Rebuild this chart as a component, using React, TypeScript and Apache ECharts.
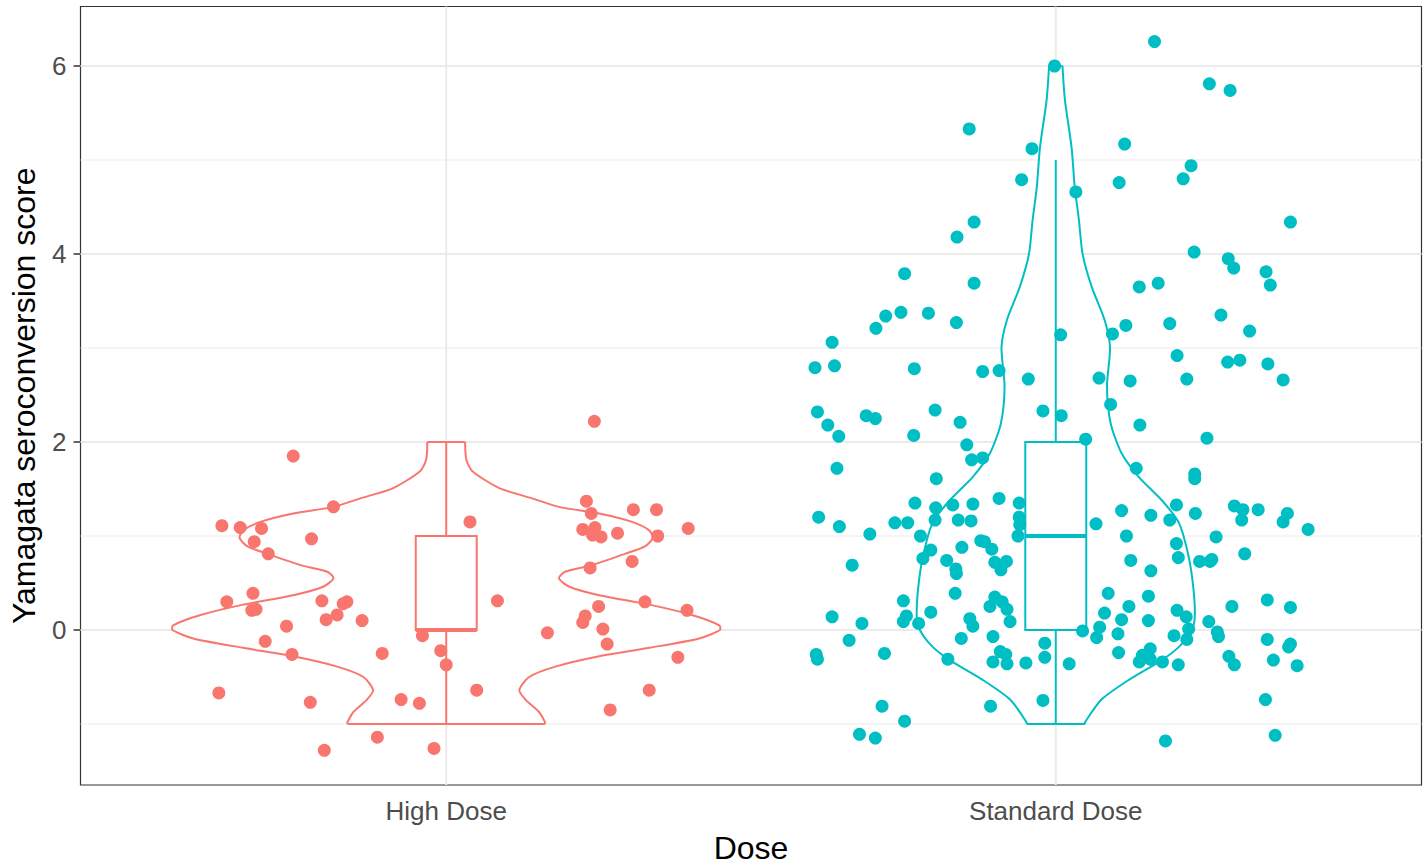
import React, { useEffect, useRef } from "react";
import * as echarts from "echarts";

const FONT = "'Liberation Sans', Arial, Helvetica, sans-serif";

const categories = ["High Dose", "Standard Dose"];
const colors = ["#F8766D", "#00BFC4"];

const yMajorTicks = [0, 2, 4, 6];
const yMinorTicks = [-1, 1, 3, 5];
const xTicks = [1, 2];

// boxplot stats: [min, q1, median, q3, max]
const highBox = [-1, 0, 0, 1, 2];
const stdBox = [-1, 0, 1, 2, 5];

// violin outline: y values and half-widths (x units)
const highViolinY = [2.0, 1.81, 1.69, 1.51, 1.4, 1.31, 1.24, 1.15, 1.06, 0.98, 0.89, 0.81, 0.69, 0.62, 0.55, 0.46, 0.37, 0.27, 0.16, 0.05, 0.0, -0.09, -0.19, -0.28, -0.39, -0.5, -0.64, -0.74, -0.87, -0.98, -1.0];
const highViolinHalfWidth = [0.031, 0.033, 0.043, 0.087, 0.141, 0.185, 0.251, 0.305, 0.333, 0.339, 0.326, 0.293, 0.239, 0.195, 0.185, 0.202, 0.251, 0.333, 0.403, 0.448, 0.449, 0.415, 0.333, 0.251, 0.179, 0.136, 0.12, 0.13, 0.152, 0.162, 0.162];
const stdViolinY = [6.0, 5.64, 5.13, 4.72, 4.36, 4.0, 3.65, 3.3, 3.01, 2.59, 2.2, 1.88, 1.63, 1.38, 1.14, 0.78, 0.43, 0.14, 0.0, -0.18, -0.32, -0.53, -0.74, -0.98, -1.0];
const stdViolinHalfWidth = [0.011, 0.015, 0.026, 0.031, 0.038, 0.044, 0.059, 0.08, 0.089, 0.084, 0.09, 0.108, 0.136, 0.174, 0.202, 0.218, 0.226, 0.228, 0.223, 0.202, 0.174, 0.12, 0.075, 0.048, 0.048];

// jittered points: [x offset from category, score]
const highDosePoints = [
  [-0.251, 1.85], [-0.185, 1.31], [-0.368, 1.11], [-0.338, 1.09], [-0.303, 1.08], [-0.221, 0.97], [-0.315, 0.94], [-0.292, 0.81],
  [-0.317, 0.39], [-0.36, 0.3], [-0.204, 0.31], [-0.163, 0.3], [-0.169, 0.28], [-0.319, 0.21], [-0.312, 0.22], [-0.179, 0.16],
  [-0.197, 0.11], [-0.138, 0.1], [-0.262, 0.04], [-0.297, -0.12], [-0.253, -0.26], [-0.105, -0.25], [-0.039, -0.06], [-0.009, -0.22],
  [0.0, -0.37], [-0.373, -0.67], [-0.223, -0.77], [-0.074, -0.74], [-0.044, -0.78], [-0.113, -1.14], [-0.2, -1.28], [-0.02, -1.26],
  [0.243, 2.22], [0.039, 1.15], [0.23, 1.37], [0.238, 1.24], [0.307, 1.28], [0.345, 1.28], [0.224, 1.07], [0.244, 1.09],
  [0.24, 1.01], [0.254, 0.99], [0.281, 1.03], [0.347, 1.0], [0.397, 1.08], [0.305, 0.73], [0.236, 0.66], [0.084, 0.31],
  [0.326, 0.3], [0.395, 0.21], [0.25, 0.25], [0.228, 0.15], [0.224, 0.08], [0.257, 0.01], [0.166, -0.03], [0.264, -0.15],
  [0.38, -0.29], [0.05, -0.64], [0.333, -0.64], [0.269, -0.85],
];

const standardDosePoints = [
  [-0.002, 6.0], [-0.142, 5.33], [-0.039, 5.12], [-0.056, 4.79], [-0.134, 4.34], [-0.162, 4.18], [-0.248, 3.79], [-0.134, 3.69],
  [-0.295, 3.21], [-0.279, 3.34], [-0.254, 3.38], [-0.209, 3.37], [-0.163, 3.27], [-0.367, 3.06], [-0.395, 2.79], [-0.363, 2.81],
  [-0.232, 2.78], [-0.12, 2.75], [-0.093, 2.76], [-0.045, 2.67], [0.008, 3.14],
  [0.162, 6.26], [0.252, 5.81], [0.286, 5.74], [0.113, 5.17], [0.222, 4.94], [0.209, 4.8], [0.104, 4.76], [0.033, 4.66],
  [0.385, 4.34], [0.227, 4.02], [0.283, 3.95], [0.292, 3.85], [0.345, 3.81], [0.352, 3.67], [0.168, 3.69], [0.137, 3.65],
  [0.271, 3.35], [0.187, 3.26], [0.115, 3.24], [0.093, 3.15], [0.318, 3.18], [0.199, 2.92], [0.282, 2.85], [0.302, 2.87],
  [0.348, 2.83], [0.071, 2.68], [0.122, 2.65], [0.215, 2.67], [0.373, 2.66],
  [-0.391, 2.32], [-0.374, 2.18], [-0.356, 2.06], [-0.311, 2.28], [-0.296, 2.25], [-0.198, 2.34], [-0.157, 2.21], [-0.233, 2.07],
  [-0.021, 2.33], [-0.146, 1.97], [-0.359, 1.72], [-0.138, 1.81], [-0.12, 1.83], [-0.196, 1.61], [-0.231, 1.35], [-0.197, 1.3],
  [-0.169, 1.33], [-0.136, 1.34], [-0.093, 1.4], [-0.06, 1.35], [-0.389, 1.2], [-0.355, 1.1], [-0.305, 1.02], [-0.264, 1.14],
  [-0.243, 1.14], [-0.198, 1.17], [-0.16, 1.17], [-0.139, 1.16], [-0.06, 1.2], [-0.059, 1.12], [-0.222, 1.0], [-0.062, 1.0],
  [-0.123, 0.95], [-0.117, 0.94], [-0.205, 0.85], [-0.154, 0.88], [-0.105, 0.86], [-0.218, 0.76], [-0.179, 0.74], [-0.1, 0.72],
  [-0.081, 0.73], [-0.164, 0.65], [-0.163, 0.6], [-0.09, 0.64], [-0.334, 0.69], [-0.165, 0.39], [-0.25, 0.31], [-0.1, 0.35],
  [-0.108, 0.25], [-0.088, 0.3], [-0.08, 0.22], [-0.205, 0.19], [-0.367, 0.14], [-0.318, 0.07], [-0.245, 0.15], [-0.25, 0.09],
  [-0.225, 0.07], [-0.141, 0.12], [-0.136, 0.04], [-0.075, 0.09], [-0.339, -0.11], [-0.155, -0.09], [-0.103, -0.07], [-0.018, -0.14],
  [-0.393, -0.26], [-0.391, -0.31], [-0.281, -0.25], [-0.177, -0.31], [-0.091, -0.23], [-0.082, -0.26], [-0.103, -0.34], [-0.08, -0.36],
  [-0.049, -0.35], [-0.018, -0.29], [-0.285, -0.81], [-0.107, -0.81], [-0.021, -0.75], [-0.248, -0.97], [-0.322, -1.11], [-0.296, -1.15],
  [0.009, 2.28], [0.09, 2.4], [0.138, 2.18], [0.049, 2.03], [0.248, 2.04], [0.132, 1.72], [0.228, 1.66], [0.228, 1.61],
  [0.198, 1.33], [0.108, 1.27], [0.156, 1.22], [0.187, 1.17], [0.229, 1.24], [0.293, 1.32], [0.307, 1.28], [0.305, 1.17],
  [0.332, 1.28], [0.38, 1.24], [0.373, 1.15], [0.414, 1.07], [0.066, 1.13], [0.116, 1.0], [0.263, 0.99], [0.198, 0.92],
  [0.201, 0.77], [0.123, 0.74], [0.236, 0.73], [0.253, 0.73], [0.256, 0.75], [0.31, 0.81], [0.156, 0.63], [0.086, 0.39],
  [0.152, 0.36], [0.289, 0.25], [0.347, 0.32], [0.385, 0.24], [0.12, 0.25], [0.08, 0.18], [0.108, 0.11], [0.152, 0.1],
  [0.199, 0.21], [0.214, 0.14], [0.251, 0.09], [0.072, 0.03], [0.067, -0.08], [0.044, -0.01], [0.102, -0.04], [0.218, 0.01],
  [0.194, -0.06], [0.215, -0.1], [0.265, -0.02], [0.267, -0.07], [0.347, -0.1], [0.385, -0.15], [0.382, -0.18], [0.103, -0.24],
  [0.155, -0.2], [0.142, -0.27], [0.137, -0.34], [0.155, -0.31], [0.175, -0.34], [0.201, -0.37], [0.022, -0.36], [0.284, -0.28],
  [0.293, -0.37], [0.357, -0.32], [0.396, -0.38], [0.344, -0.74], [0.18, -1.18], [0.36, -1.12],
];

const X_MIN = 0.4;
const X_MAX = 2.6;
const Y_MIN = -1.649;
const Y_MAX = 6.633;
const BOX_WIDTH = 0.1;

const violinProfiles = [
  { y: highViolinY, hw: highViolinHalfWidth },
  { y: stdViolinY, hw: stdViolinHalfWidth },
];

export default function App() {
  const ref = useRef<HTMLDivElement>(null);

  useEffect(() => {
    if (!ref.current) return;
    const chart = echarts.init(ref.current, null, { renderer: "svg" });

    const hLine = (stroke: string, width: number) => (params: any, api: any) => {
      const cs = params.coordSys;
      const y = api.coord([X_MIN, api.value(1)])[1];
      return {
        type: "line",
        shape: { x1: cs.x, y1: y, x2: cs.x + cs.width, y2: y },
        style: { stroke, lineWidth: width },
        silent: true,
      };
    };
    const vLine = (stroke: string, width: number) => (params: any, api: any) => {
      const cs = params.coordSys;
      const x = api.coord([api.value(0), Y_MIN])[0];
      return {
        type: "line",
        shape: { x1: x, y1: cs.y, x2: x, y2: cs.y + cs.height },
        style: { stroke, lineWidth: width },
        silent: true,
      };
    };

    const option: any = {
      animation: false,
      backgroundColor: "#ffffff",
      grid: {
        left: 80.5,
        right: 4.5,
        top: 6.5,
        bottom: 80,
        show: true,
        borderColor: "#333333",
        borderWidth: 1.2,
        backgroundColor: "#ffffff",
        containLabel: false,
        outerBoundsMode: "none",
      },
      xAxis: {
        type: "value",
        min: X_MIN,
        max: X_MAX,
        splitLine: { show: false },
        axisLine: { show: false },
        axisTick: { show: true, customValues: xTicks, length: 7, lineStyle: { color: "#333333", width: 1.5 } },
        axisLabel: {
          customValues: xTicks,
          formatter: (v: number) => categories[Math.round(v) - 1] ?? "",
          fontSize: 26,
          color: "#4D4D4D",
          fontFamily: FONT,
          margin: 13,
        },
        name: "Dose",
        nameLocation: "middle",
        nameGap: 47,
        nameTextStyle: { fontSize: 32, color: "#000000", fontFamily: FONT },
      },
      yAxis: {
        type: "value",
        min: Y_MIN,
        max: Y_MAX,
        splitLine: { show: false },
        axisLine: { show: false },
        axisTick: { show: true, customValues: yMajorTicks, length: 7, lineStyle: { color: "#333333", width: 1.5 } },
        axisLabel: {
          customValues: yMajorTicks,
          formatter: (v: number) => String(v),
          fontSize: 26,
          color: "#4D4D4D",
          fontFamily: FONT,
          margin: 14,
        },
        name: "Yamagata seroconversion score",
        nameLocation: "middle",
        nameRotate: 90,
        nameGap: 41,
        nameTextStyle: { fontSize: 32, color: "#000000", fontFamily: FONT },
      },
      series: [
        {
          type: "custom",
          silent: true,
          z: 1,
          data: yMinorTicks.map((v) => [X_MIN, v]),
          renderItem: hLine("#EBEBEB", 1),
        },
        {
          type: "custom",
          silent: true,
          z: 1,
          data: yMajorTicks.map((v) => [X_MIN, v]),
          renderItem: hLine("#EBEBEB", 2),
        },
        {
          type: "custom",
          silent: true,
          z: 1,
          data: xTicks.map((v) => [v, Y_MIN]),
          renderItem: vLine("#EBEBEB", 2),
        },
        {
          type: "custom",
          silent: true,
          z: 2,
          data: [[1, 0], [2, 0]],
          renderItem: (params: any, api: any) => {
            const cat = api.value(0);
            const prof = violinProfiles[params.dataIndex];
            const color = colors[params.dataIndex];
            const right = prof.y.map((y, i) => api.coord([cat + prof.hw[i], y]));
            const left = prof.y.map((y, i) => api.coord([cat - prof.hw[i], y]));
            const poly = right.concat(left.slice().reverse());
            const n = right.length - 1;
            return {
              type: "group",
              children: [
                { type: "polygon", shape: { points: poly, smooth: 0.25 }, style: { fill: "#ffffff", stroke: null } },
                { type: "polyline", shape: { points: right, smooth: 0.25 }, style: { stroke: color, lineWidth: 2, fill: null } },
                { type: "polyline", shape: { points: left, smooth: 0.25 }, style: { stroke: color, lineWidth: 2, fill: null } },
                { type: "line", shape: { x1: left[0][0], y1: left[0][1], x2: right[0][0], y2: right[0][1] }, style: { stroke: color, lineWidth: 2 } },
                { type: "line", shape: { x1: left[n][0], y1: left[n][1], x2: right[n][0], y2: right[n][1] }, style: { stroke: color, lineWidth: 2 } },
              ],
            };
          },
        },
        {
          type: "custom",
          silent: true,
          z: 3,
          data: [[1, ...highBox], [2, ...stdBox]],
          renderItem: (params: any, api: any) => {
            const cat = api.value(0);
            const mn = api.value(1), q1 = api.value(2), med = api.value(3), q3 = api.value(4), mx = api.value(5);
            const color = colors[params.dataIndex];
            const pMin = api.coord([cat, mn]);
            const pQ1 = api.coord([cat, q1]);
            const pQ3 = api.coord([cat, q3]);
            const pMax = api.coord([cat, mx]);
            const lMed = api.coord([cat - BOX_WIDTH / 2, med]);
            const rMed = api.coord([cat + BOX_WIDTH / 2, med]);
            const tl = api.coord([cat - BOX_WIDTH / 2, q3]);
            const br = api.coord([cat + BOX_WIDTH / 2, q1]);
            return {
              type: "group",
              children: [
                { type: "line", shape: { x1: pMin[0], y1: pMin[1], x2: pQ1[0], y2: pQ1[1] }, style: { stroke: color, lineWidth: 2 } },
                { type: "line", shape: { x1: pQ3[0], y1: pQ3[1], x2: pMax[0], y2: pMax[1] }, style: { stroke: color, lineWidth: 2 } },
                { type: "rect", shape: { x: tl[0], y: tl[1], width: br[0] - tl[0], height: br[1] - tl[1] }, style: { fill: "#ffffff", stroke: color, lineWidth: 2 } },
                { type: "line", shape: { x1: lMed[0], y1: lMed[1], x2: rMed[0], y2: rMed[1] }, style: { stroke: color, lineWidth: 4 } },
              ],
            };
          },
        },
        {
          type: "scatter",
          silent: true,
          z: 4,
          symbol: "circle",
          symbolSize: 13,
          itemStyle: { color: colors[0], opacity: 1 },
          data: highDosePoints.map(([dx, y]) => [1 + dx, y]),
        },
        {
          type: "scatter",
          silent: true,
          z: 4,
          symbol: "circle",
          symbolSize: 13,
          itemStyle: { color: colors[1], opacity: 1 },
          data: standardDosePoints.map(([dx, y]) => [2 + dx, y]),
        },
      ],
    };

    chart.setOption(option);
    return () => chart.dispose();
  }, []);

  return (
    <div
      ref={ref}
      style={{ position: "fixed", left: 0, top: 0, width: 1426, height: 865, background: "#ffffff" }}
    />
  );
}
